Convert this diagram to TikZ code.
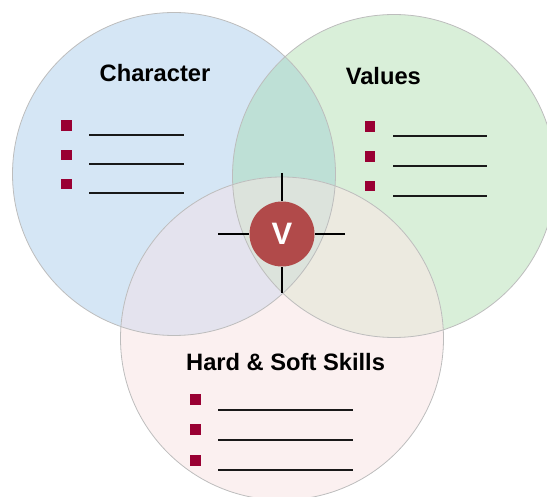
\documentclass[tikz,border=0pt]{standalone}
\usepackage{fontspec}
\setmainfont{Liberation Sans}
\definecolor{cblue}{HTML}{D5E6F5}
\definecolor{cgreen}{HTML}{D9EFD9}
\definecolor{cpink}{HTML}{FBF0F0}
\definecolor{cbg}{HTML}{BEE0D6}
\definecolor{cbp}{HTML}{E4E3EE}
\definecolor{cgp}{HTML}{ECEAE0}
\definecolor{cbgp}{HTML}{DCE3DC}
\definecolor{cv}{HTML}{B14A4A}
\definecolor{cbullet}{HTML}{990033}
\definecolor{cedge}{HTML}{BDBDBD}
\tikzset{
  title/.style={anchor=base, inner sep=0pt, font=\fontsize{23.7}{28}\selectfont\bfseries},
  bullet/.style={fill=cbullet, draw=none, minimum size=10.5pt, inner sep=0pt},
  blank/.style={line width=2pt, black!90},
  ring/.style={draw=cedge, line width=0.8pt},
  cross/.style={line width=2pt, black},
}
\begin{document}
\begin{tikzpicture}[x=1pt,y=-1pt]
\useasboundingbox (0,0) rectangle (547,497);
\def\A{(174,174) circle[radius=161.5pt]}
\def\B{(394,176) circle[radius=161.5pt]}
\def\C{(282,338.5) circle[radius=161.5pt]}
% base fills
\fill[cblue] \A;
\fill[cgreen] \B;
\fill[cpink] \C;
\begin{scope}\clip \A; \fill[cbg] \B; \end{scope}
\begin{scope}\clip \A; \fill[cbp] \C; \end{scope}
\begin{scope}\clip \B; \fill[cgp] \C; \end{scope}
\begin{scope}\clip \A; \clip \B; \fill[cbgp] \C; \end{scope}
\draw[ring] \A;
\draw[ring] \B;
\draw[ring] \C;
% titles
\node[title] (tchar) at (155,82) {Character};
\node[title] (tval) at (383.3,84.8) {Values};
\node[title] (tskill) at (285.6,371) {Hard \& Soft Skills};
% Character list
\node[bullet] (b1) at (66.4,125.7) {};
\node[bullet] (b2) at (66.4,155) {};
\node[bullet] (b3) at (66.4,184) {};
\draw[blank] (89,135) -- (184,135);
\draw[blank] (89,164) -- (184,164);
\draw[blank] (89,193) -- (184,193);
% Values list
\node[bullet] (v1) at (369.8,126.6) {};
\node[bullet] (v2) at (369.8,156.3) {};
\node[bullet] (v3) at (369.8,186) {};
\draw[blank] (393,136) -- (487,136);
\draw[blank] (393,166) -- (487,166);
\draw[blank] (393,196) -- (487,196);
% Skills list
\node[bullet] (s1) at (195.4,399.7) {};
\node[bullet] (s2) at (195.4,429.7) {};
\node[bullet] (s3) at (195.4,460.4) {};
\draw[blank] (218,410) -- (353,410);
\draw[blank] (218,440) -- (353,440);
\draw[blank] (218,470) -- (353,470);
% center V
\node[circle, fill=cv, minimum size=65pt, inner sep=0pt, text=white,
      font=\fontsize{31}{31}\selectfont\bfseries] (v) at (282,234) {V};
\coordinate (cw) at (218,234);
\coordinate (ce) at (345,234);
\coordinate (cn) at (282,173);
\coordinate (cs) at (282,293);
\draw[cross] (cw) -- (v);
\draw[cross] (ce) -- (v);
\draw[cross] (cn) -- (v);
\draw[cross] (cs) -- (v);
\end{tikzpicture}
\end{document}
